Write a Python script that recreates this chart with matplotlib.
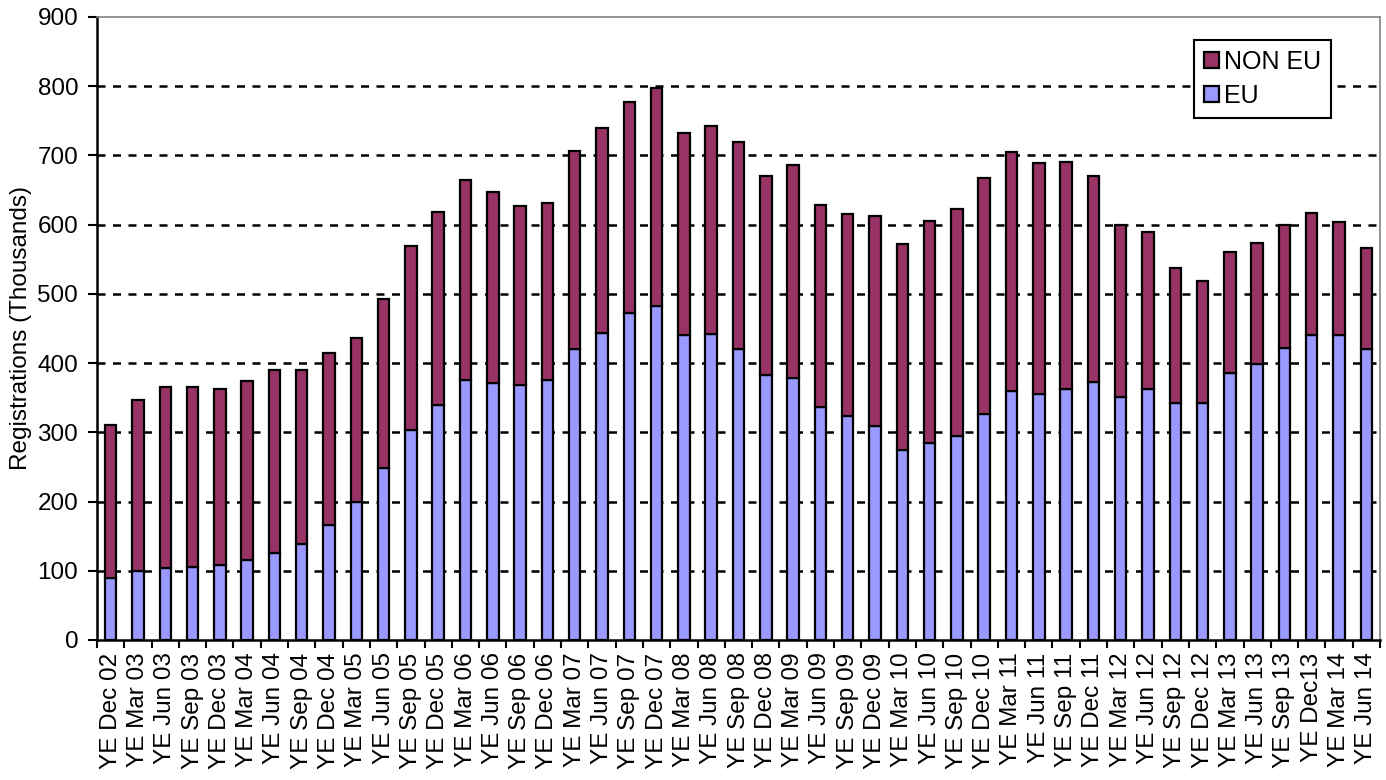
import matplotlib
matplotlib.use("Agg")
from matplotlib import pyplot as plt
from matplotlib.ticker import MultipleLocator, FixedLocator
import numpy as np

plt.rcParams['font.family'] = ['Liberation Sans', 'DejaVu Sans']

# year-ending quarters
periods = ['YE Dec 02', 'YE Mar 03', 'YE Jun 03', 'YE Sep 03', 'YE Dec 03',
           'YE Mar 04', 'YE Jun 04', 'YE Sep 04', 'YE Dec 04', 'YE Mar 05',
           'YE Jun 05', 'YE Sep 05', 'YE Dec 05', 'YE Mar 06', 'YE Jun 06',
           'YE Sep 06', 'YE Dec 06', 'YE Mar 07', 'YE Jun 07', 'YE Sep 07',
           'YE Dec 07', 'YE Mar 08', 'YE Jun 08', 'YE Sep 08', 'YE Dec 08',
           'YE Mar 09', 'YE Jun 09', 'YE Sep 09', 'YE Dec 09', 'YE Mar 10',
           'YE Jun 10', 'YE Sep 10', 'YE Dec 10', 'YE Mar 11', 'YE Jun 11',
           'YE Sep 11', 'YE Dec 11', 'YE Mar 12', 'YE Jun 12', 'YE Sep 12',
           'YE Dec 12', 'YE Mar 13', 'YE Jun 13', 'YE Sep 13', 'YE Dec13',
           'YE Mar 14', 'YE Jun 14']

# registrations, thousands
eu = [90, 99, 104, 105, 108, 116, 125, 139, 166, 199,
      248, 303, 339, 375, 371, 368, 375, 421, 443, 473,
      482, 440, 442, 421, 383, 378, 337, 324, 309, 274,
      285, 295, 327, 359, 356, 363, 372, 351, 362, 343,
      343, 385, 398, 422, 440, 440, 421]
total = [310, 346, 365, 365, 362, 374, 390, 390, 414, 436,
         493, 569, 618, 664, 647, 627, 632, 707, 739, 777,
         798, 732, 743, 720, 670, 686, 628, 616, 613, 572,
         605, 623, 667, 705, 689, 690, 671, 600, 589, 537,
         519, 561, 573, 599, 617, 604, 566]
non_eu = [t - e for t, e in zip(total, eu)]

fig = plt.figure(figsize=(13.86, 7.8), dpi=100)
ax = fig.add_axes([97/1386, 1 - 640/780, 1283/1386, 623/780])

x = np.arange(len(periods))
w = 0.42
ax.bar(x, eu, w, color='#9999FF', edgecolor='black', linewidth=1.6,
       label='EU', zorder=3)
ax.bar(x, non_eu, w, bottom=eu, color='#993366', edgecolor='black',
       linewidth=1.6, label='NON EU', zorder=3)

ax.set_xlim(-0.5, len(periods) - 0.5)
ax.set_ylim(0, 900)
ax.yaxis.set_major_locator(MultipleLocator(100))

for y in range(100, 900, 100):
    ax.axhline(y, color='black', lw=1.8, ls=(0, (3.2, 3.0)), zorder=1)

ax.set_xticks(x)
ax.set_xticklabels(periods, rotation=90, fontsize=17.5)
ax.xaxis.set_minor_locator(FixedLocator(np.arange(-0.5, len(periods), 1)))
ax.tick_params(axis='x', which='major', length=0, pad=9)
ax.tick_params(axis='x', which='minor', length=6, width=1.5)
ax.tick_params(axis='y', length=6.5, width=1.5, pad=7, labelsize=17.5)

ax.set_ylabel('Registrations (Thousands)', fontsize=17.5, labelpad=4)

for s in ['left', 'bottom']:
    ax.spines[s].set_linewidth(1.8)
    ax.spines[s].set_color('black')
for s in ['top', 'right']:
    ax.spines[s].set_linewidth(1.2)
    ax.spines[s].set_color('#808080')

h, l = ax.get_legend_handles_labels()
leg = ax.legend(h[::-1], l[::-1], loc='upper right',
                bbox_to_anchor=(0.962, 0.963), fontsize=18,
                frameon=True, fancybox=False, edgecolor='black',
                framealpha=1, handlelength=0.6, handleheight=0.6,
                handletextpad=0.2, labelspacing=0.4, borderpad=0.4,
                borderaxespad=0)
leg.get_frame().set_linewidth(1.5)
leg.set_zorder(5)

fig.savefig('out.png', dpi=100)
